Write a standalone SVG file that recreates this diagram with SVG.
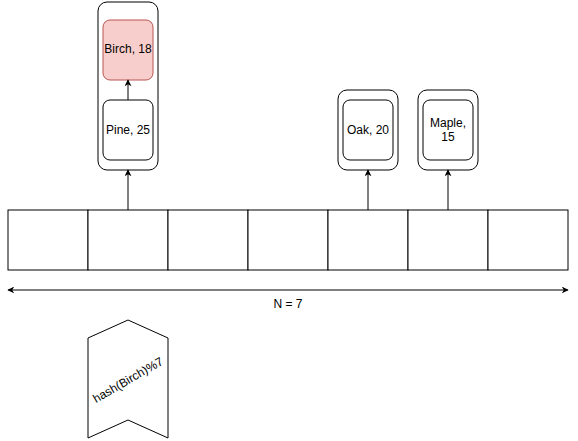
<svg xmlns="http://www.w3.org/2000/svg" width="578" height="441" viewBox="0 0 578 441">
<defs>
<style>
.box{fill:#fff;stroke:#000;stroke-width:1}
.hot{fill:#f8cecc;stroke:#b85450;stroke-width:1}
.ln{stroke:#000;stroke-width:1;fill:none}
text{font-family:"Liberation Sans",Arial,sans-serif;font-size:12px;fill:#000;text-anchor:middle}
</style>
<marker id="ah" viewBox="0 0 10 10" refX="9" refY="5" markerWidth="7" markerHeight="7" orient="auto-start-reverse" markerUnits="userSpaceOnUse">
<path d="M0,0 L10,5 L0,10 L3,5 Z" fill="#000"/>
</marker>
</defs>
<rect width="578" height="441" fill="#fff"/>
<g id="table">
<rect class="box" x="8" y="210" width="80" height="60"/>
<rect class="box" x="88" y="210" width="80" height="60"/>
<rect class="box" x="168" y="210" width="80" height="60"/>
<rect class="box" x="248" y="210" width="80" height="60"/>
<rect class="box" x="328" y="210" width="80" height="60"/>
<rect class="box" x="408" y="210" width="80" height="60"/>
<rect class="box" x="488" y="210" width="80" height="60"/>
</g>
<g id="bucket1">
<rect class="box" x="98" y="2" width="60" height="168" rx="9"/>
</g>
<g id="birch">
<rect class="hot" x="103" y="20" width="50" height="60" rx="7"/>
<text x="128" y="53">Birch, 18</text>
</g>
<g id="pine">
<rect class="box" x="103" y="100" width="50" height="60" rx="7"/>
<text x="128" y="134">Pine, 25</text>
</g>
<g id="bucket4">
<rect class="box" x="338" y="90" width="60" height="80" rx="9"/>
</g>
<g id="oak">
<rect class="box" x="343" y="100" width="50" height="60" rx="7"/>
<text x="368" y="134">Oak, 20</text>
</g>
<g id="bucket5">
<rect class="box" x="418" y="90" width="60" height="80" rx="9"/>
</g>
<g id="maple">
<rect class="box" x="423" y="100" width="50" height="60" rx="7"/>
<text x="448" y="127">Maple,</text>
<text x="448" y="141">15</text>
</g>
<g id="hash">
<path class="box" d="M88,338 L128,320 L168,338 L168,438 L128,420 L88,438 Z"/>
<text x="128" y="384" transform="rotate(-30 128 380)">hash(Birch)%7</text>
</g>
<g id="size-label">
<text x="288" y="308">N = 7</text>
</g>
<g id="connectors">
<line class="ln" x1="128" y1="210" x2="128" y2="170" marker-end="url(#ah)"/>
<line class="ln" x1="128" y1="100" x2="128" y2="80" marker-end="url(#ah)"/>
<line class="ln" x1="368" y1="210" x2="368" y2="170" marker-end="url(#ah)"/>
<line class="ln" x1="448" y1="210" x2="448" y2="170" marker-end="url(#ah)"/>
<line class="ln" x1="8" y1="290" x2="568" y2="290" marker-start="url(#ah)" marker-end="url(#ah)"/>
</g>
</svg>
